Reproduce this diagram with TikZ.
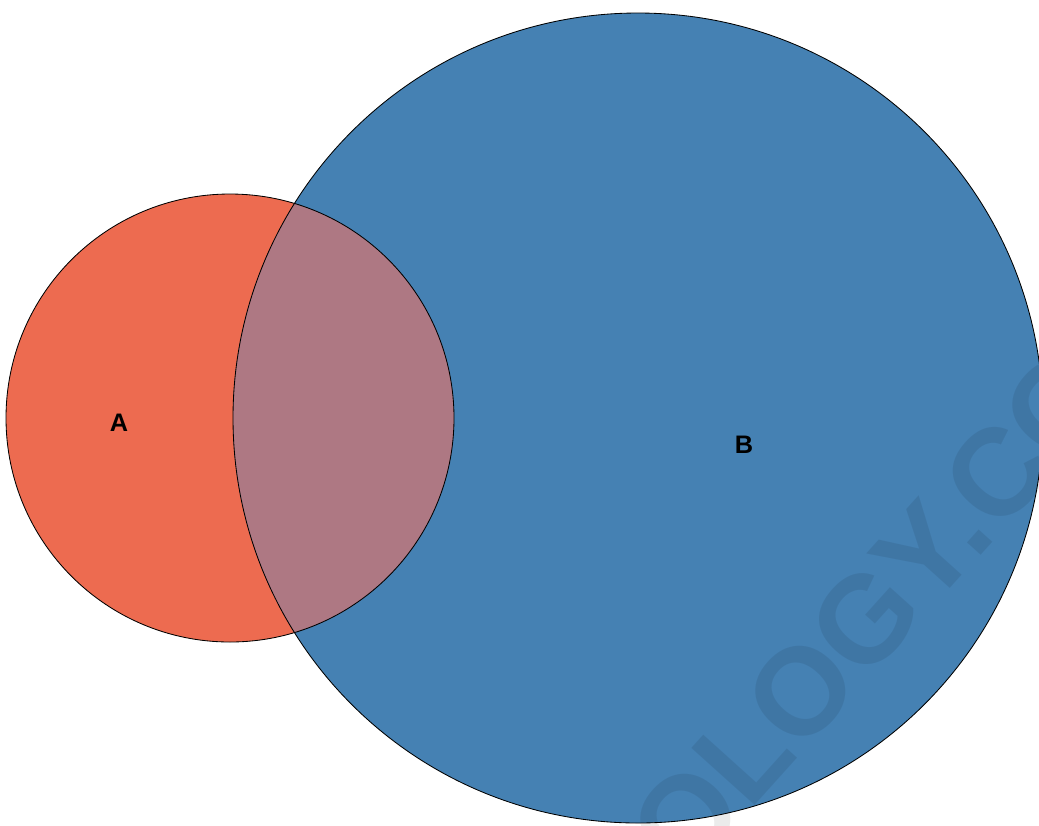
\documentclass[tikz,border=0pt]{standalone}
\usepackage{fontspec}
\setsansfont{Liberation Sans}
\definecolor{setA}{HTML}{ED6B50}
\definecolor{setB}{HTML}{4581B3}
\definecolor{setAB}{HTML}{AE7883}

\begin{document}
\begin{tikzpicture}[x=0.025cm, y=-0.025cm,
  setline/.style={draw=black, line width=0.6pt},
  setlabel/.style={font=\sffamily\bfseries\fontsize{18}{18}\selectfont, text=black}]
\useasboundingbox (0,0) rectangle (1039,825);

% the two sets
\fill[setA] (230,418) circle (224);
\fill[setB] (638,418) circle (405);
\begin{scope}
\clip (230,418) circle (224);
\fill[setAB] (638,418) circle (405);
\end{scope}

% watermark
\node[font=\sffamily\bfseries\fontsize{88}{88}\selectfont, text=black, opacity=0.08, rotate=48] (mark) at (872,612) {OLOGY.CO};

\draw[setline] (230,418) circle (224);
\draw[setline] (638,418) circle (405);

\node[setlabel] (labelA) at (119,423) {A};
\node[setlabel] (labelB) at (744,445) {B};
\end{tikzpicture}
\end{document}
